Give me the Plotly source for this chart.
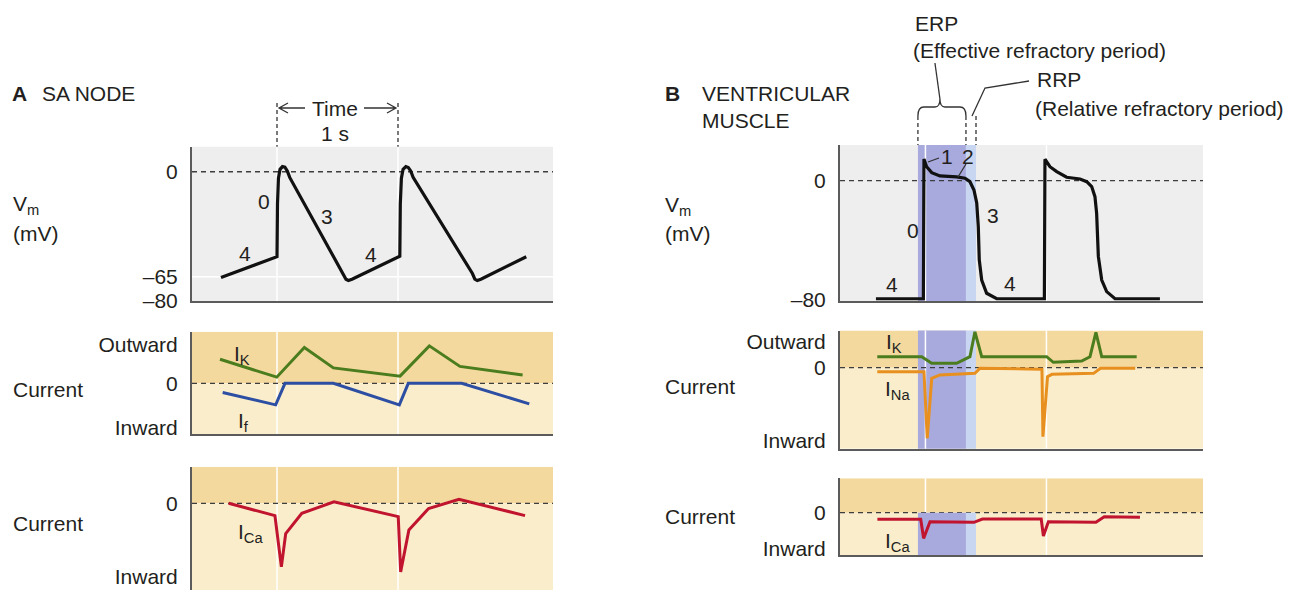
import plotly.graph_objects as go

W, H = 1299, 590

# ---------------- data ----------------
# A  SA node: time (s) and membrane potential (mV)
sa_t = [-0.463, 0.0, 0.004, 0.012, 0.025, 0.045, 0.065, 0.085, 0.105, 0.55, 0.57, 0.59, 0.62,
        1.015, 1.019, 1.028, 1.042, 1.065, 1.085, 1.105, 1.125, 1.615, 1.635, 1.655, 1.685, 2.06]
sa_vm = [-65.5, -52.6, -20, -4, 1.5, 3.2, 2.8, 0.5, -3.5, -63, -66.5, -67.3, -66.5,
         -52.3, -20, -4, 1.5, 3.2, 2.6, 0.5, -3.5, -63, -66.5, -67.3, -66.5, -52.6]

sa_ik_t = [-0.471, -0.002, 0.226, 0.466, 1.017, 1.259, 1.512, 2.030]
sa_ik = [0.47, 0.12, 0.70, 0.30, 0.14, 0.73, 0.33, 0.16]

sa_if_t = [-0.449, -0.011, 0.066, 0.466, 1.011, 1.085, 1.526, 2.085]
sa_if = [-0.18, -0.42, 0.0, 0.0, -0.42, 0.0, 0.0, -0.40]

sa_ica_t = [-0.40, -0.017, 0.036, 0.072, 0.205, 0.471, 1.002, 1.022, 1.090, 1.253, 1.504, 2.050]
sa_ica = [0.0, -0.24, -1.24, -0.59, -0.195, 0.03, -0.26, -1.34, -0.52, -0.10, 0.08, -0.24]

# B  ventricular muscle
vm_t = [-0.397, -0.005, 0.0, 0.022, 0.064, 0.132, 0.270, 0.339, 0.380, 0.413, 0.436, 0.449,
        0.457, 0.477, 0.518, 0.601, 0.995, 1.0, 1.041, 1.097, 1.179, 1.289, 1.345, 1.386,
        1.413, 1.427, 1.441, 1.469, 1.510, 1.579, 1.950]
vm_v = [-79.5, -79.5, 14.6, 9.4, 5.4, 3.2, 2.5, 1.6, -0.7, -6.3, -15, -31,
        -53.4, -66.9, -75.8, -79.5, -79.5, 14.4, 9.4, 6.1, 2.3, 1.1, -0.7, -4,
        -10.8, -22, -51, -66.9, -74.7, -79.5, -79.5]

v_ik_t = [-0.386, -0.019, 0.064, 0.270, 0.380, 0.421, 0.477, 1.014, 1.069, 1.303, 1.372,
          1.421, 1.469, 1.758]
v_ik = [0.214, 0.214, 0.086, 0.086, 0.214, 0.70, 0.214, 0.214, 0.105, 0.13, 0.214,
        0.69, 0.214, 0.214]

v_ina_t = [-0.386, 0.0, 0.027, 0.064, 0.132, 0.421, 0.463, 0.975, 0.983, 1.021, 1.058,
           1.402, 1.459, 1.746]
v_ina = [-0.078, -0.078, -1.376, -0.207, -0.14, -0.11, -0.01, -0.03, -1.345, -0.175,
         -0.13, -0.11, -0.01, -0.01]

v_ica_t = [-0.385, -0.027, -0.003, 0.05, 0.413, 0.483, 0.969, 0.987, 1.028, 1.421, 1.49, 1.785]
v_ica = [-0.129, -0.129, -0.50, -0.175, -0.187, -0.123, -0.123, -0.454, -0.175, -0.187,
         -0.078, -0.09]

erp = [-0.05, 0.347]       # effective refractory period (s)
rrp = [0.347, 0.43]        # relative refractory period (s)
beats_a = [0.0, 1.0]
beats_b = [0.012, 1.012]

# y-axis tick labels per panel
ticks = {
    1: ([0, -65, -80], ["0", "\u201365", "\u201380"]),
    2: ([0.75, 0, -0.87], ["Outward", "0", "Inward"]),
    3: ([0, -1.42], ["0", "Inward"]),
    4: ([0, -80], ["0", "\u201380"]),
    5: ([0.50, 0, -1.43], ["Outward", "0", "Inward"]),
    6: ([0, -0.71], ["0", "Inward"]),
}

# ---------------- layout geometry (pixels) ----------------
COL_A = (192, 553)
COL_B = (840, 1203)
XR_A = [-0.7025, 2.281]
XR_B = [-0.694, 2.306]
panels = {
    1: dict(col=COL_A, xr=XR_A, top=146.7, bot=301, yr=[-80, 15.5], kind="gray", bottom_line=True),
    2: dict(col=COL_A, xr=XR_A, top=331.7, bot=434.3, yr=[-0.994, 1.006], kind="cur", bottom_line=True),
    3: dict(col=COL_A, xr=XR_A, top=466.7, bot=590, yr=[-1.69, 0.714], kind="cur", bottom_line=False),
    4: dict(col=COL_B, xr=XR_B, top=145, bot=301, yr=[-81, 24], kind="gray", bottom_line=True),
    5: dict(col=COL_B, xr=XR_B, top=330.5, bot=448.7, yr=[-1.579, 0.725], kind="cur", bottom_line=True),
    6: dict(col=COL_B, xr=XR_B, top=478.3, bot=555, yr=[-0.825, 0.671], kind="cur", bottom_line=True),
}

FONT = "Liberation Sans, Arial, sans-serif"
FS = 21
TXT = "#231f20"
AXIS = "#5b5b5b"
GRAY = "#eeeeee"
OUT_C = "#f4d99f"
IN_C = "#faedcb"
ERP_C = "rgb(168,170,222)"
RRP_C = "rgb(200,214,241)"
BLACK = "#111111"
GREEN = "#4b7d1f"
BLUE = "#2c4ea3"
RED = "#c0142f"
ORANGE = "#e8901f"


def fx(px):
    return px / W


def fy(py):
    return 1 - py / H


def tx(t, col, xr):
    """time value -> paper x"""
    return fx(col[0] + (t - xr[0]) / (xr[1] - xr[0]) * (col[1] - col[0]))


fig = go.Figure()
layout = dict(width=W, height=H, margin=dict(l=0, r=0, t=0, b=0, autoexpand=False),
              paper_bgcolor="white", plot_bgcolor="rgba(0,0,0,0)",
              showlegend=False, font=dict(family=FONT, color=TXT, size=FS))
shapes = []

for n, p in panels.items():
    sx = "" if n == 1 else str(n)
    layout["xaxis" + sx] = dict(
        domain=[fx(p["col"][0]), fx(p["col"][1])], range=p["xr"], anchor="y" + sx,
        showgrid=False, zeroline=False, showticklabels=False, ticks="", automargin=False,
        showline=p["bottom_line"], linecolor=AXIS, linewidth=2, fixedrange=True)
    tv, tt = ticks[n]
    layout["yaxis" + sx] = dict(
        domain=[max(0.0, fy(p["bot"])), fy(p["top"])], range=p["yr"], anchor="x" + sx,
        showgrid=False, zeroline=False, ticks="", tickvals=tv, ticktext=tt, automargin=False,
        ticklabelstandoff=8, ticklabeloverflow="allow",
        tickfont=dict(size=FS, color=TXT, family=FONT),
        showline=True, linecolor=AXIS, linewidth=2, fixedrange=True)

    xd, yd = "x" + sx + " domain", "y" + sx + " domain"
    xa, ya = "x" + sx, "y" + sx
    if p["kind"] == "gray":
        shapes.append(dict(type="rect", xref=xd, yref=yd, x0=0, x1=1, y0=0, y1=1,
                           fillcolor=GRAY, line_width=0, layer="below"))
    else:
        shapes.append(dict(type="rect", xref=xd, yref=ya, x0=0, x1=1, y0=0, y1=p["yr"][1],
                           fillcolor=OUT_C, line_width=0, layer="below"))
        shapes.append(dict(type="rect", xref=xd, yref=ya, x0=0, x1=1, y0=p["yr"][0], y1=0,
                           fillcolor=IN_C, line_width=0, layer="below"))
    # refractory bands in column B
    if p["col"] == COL_B:
        if n == 6:
            yref_b, y0b, y1b = ya, p["yr"][0], 0
        else:
            yref_b, y0b, y1b = yd, 0, 1
        shapes.append(dict(type="rect", xref=xa, yref=yref_b, x0=erp[0], x1=erp[1], y0=y0b, y1=y1b,
                           fillcolor=ERP_C, line_width=0, layer="below"))
        shapes.append(dict(type="rect", xref=xa, yref=yref_b, x0=rrp[0], x1=rrp[1], y0=y0b, y1=y1b,
                           fillcolor=RRP_C, line_width=0, layer="below"))
    beats = beats_a if p["col"] == COL_A else beats_b
    for b in beats:
        shapes.append(dict(type="line", xref=xa, yref=yd, x0=b, x1=b, y0=0, y1=1,
                           line=dict(color="white", width=1.5), layer="below"))
    if n == 1:
        shapes.append(dict(type="line", xref=xd, yref=ya, x0=0, x1=1, y0=-65, y1=-65,
                           line=dict(color="white", width=1.5), layer="below"))
    shapes.append(dict(type="line", xref=xd, yref=ya, x0=0, x1=1, y0=0, y1=0,
                       line=dict(color="#3d3d3d", width=1.3, dash="5px,4px"), layer="below"))


def add_line(x, y, n, color, width=3):
    sx = "" if n == 1 else str(n)
    fig.add_trace(go.Scatter(x=x, y=y, mode="lines", xaxis="x" + sx, yaxis="y" + sx,
                             line=dict(color=color, width=width), hoverinfo="skip",
                             cliponaxis=True))


add_line(sa_t, sa_vm, 1, BLACK, 3.2)
add_line(sa_ik_t, sa_ik, 2, GREEN)
add_line(sa_if_t, sa_if, 2, BLUE)
add_line(sa_ica_t, sa_ica, 3, RED)
add_line(vm_t, vm_v, 4, BLACK, 3.2)
add_line(v_ik_t, v_ik, 5, GREEN)
add_line(v_ina_t, v_ina, 5, ORANGE)
add_line(v_ica_t, v_ica, 6, RED)

# ---------------- decorations above the panels ----------------
dark = dict(color="#333333", width=1.3)
# beat markers for the SA node ("Time 1 s")
for b in beats_a:
    xb = tx(b, COL_A, XR_A)
    shapes.append(dict(type="line", xref="paper", yref="paper", x0=xb, x1=xb,
                       y0=fy(103), y1=fy(146.7), line=dict(color="#333", width=1.3, dash="4px,3px")))
ya_arrow = 108
shapes.append(dict(type="path", xref="paper", yref="paper", line=dark,
                   path=f"M{fx(305)},{fy(ya_arrow)} L{fx(279)},{fy(ya_arrow)} "
                        f"M{fx(288)},{fy(ya_arrow-5)} L{fx(279)},{fy(ya_arrow)} L{fx(288)},{fy(ya_arrow+5)}"))
shapes.append(dict(type="path", xref="paper", yref="paper", line=dark,
                   path=f"M{fx(364)},{fy(ya_arrow)} L{fx(396)},{fy(ya_arrow)} "
                        f"M{fx(387)},{fy(ya_arrow-5)} L{fx(396)},{fy(ya_arrow)} L{fx(387)},{fy(ya_arrow+5)}"))

# refractory period markers for the ventricular muscle
for b in [erp[0], erp[1], rrp[1]]:
    xb = tx(b, COL_B, XR_B)
    shapes.append(dict(type="line", xref="paper", yref="paper", x0=xb, x1=xb,
                       y0=fy(116), y1=fy(145), line=dict(color="#333", width=1.3, dash="4px,3px")))
xl_px = COL_B[0] + (erp[0] - XR_B[0]) / (XR_B[1] - XR_B[0]) * (COL_B[1] - COL_B[0])
xr_px = COL_B[0] + (erp[1] - XR_B[0]) / (XR_B[1] - XR_B[0]) * (COL_B[1] - COL_B[0])
xm_px = (xl_px + xr_px) / 2 - 2


def P(x, y):
    return f"{fx(x)},{fy(y)}"


brace = (f"M{P(xl_px, 116)} Q{P(xl_px, 107)} {P(xl_px + 6, 107)} L{P(xm_px - 5, 107)} "
         f"Q{P(xm_px, 107)} {P(xm_px, 99)} Q{P(xm_px, 107)} {P(xm_px + 5, 107)} "
         f"L{P(xr_px - 6, 107)} Q{P(xr_px, 107)} {P(xr_px, 116)}")
shapes.append(dict(type="path", xref="paper", yref="paper", path=brace, line=dark))
shapes.append(dict(type="path", xref="paper", yref="paper", line=dark,
                   path=f"M{P(xm_px, 99)} L{P(xm_px - 5, 63)}"))
shapes.append(dict(type="path", xref="paper", yref="paper", line=dark,
                   path=f"M{P(972, 116)} L{P(985, 88)} L{P(1029, 81)}"))
# phase 1 and 2 pointers
shapes.append(dict(type="path", xref="paper", yref="paper", line=dark,
                   path=f"M{P(928, 162)} L{P(939, 158)}"))
shapes.append(dict(type="path", xref="paper", yref="paper", line=dark,
                   path=f"M{P(958, 177)} L{P(966, 164)}"))

layout["shapes"] = shapes

# ---------------- text ----------------
ann = []


def text_px(x, y, s, size=FS, xanchor="left", **kw):
    ann.append(dict(x=fx(x), y=fy(y), xref="paper", yref="paper", text=s, showarrow=False,
                    xanchor=xanchor, yanchor="middle", font=dict(size=size, family=FONT, color=TXT),
                    **kw))


def text_data(n, x, y, s, size=FS):
    sx = "" if n == 1 else str(n)
    ann.append(dict(x=x, y=y, xref="x" + sx, yref="y" + sx, text=s, showarrow=False,
                    xanchor="center", yanchor="middle", font=dict(size=size, family=FONT, color=TXT)))


text_px(10, 94, "<b>A</b>")
text_px(40, 94, "SA NODE")
text_px(335, 108, "Time", xanchor="center")
text_px(335, 134, "1 s", xanchor="center")
text_px(11, 205, "V<sub>m</sub>")
text_px(11, 234, "(mV)")
text_px(11, 389, "Current")
text_px(11, 523, "Current")

text_px(663, 94, "<b>B</b>")
text_px(700, 94, "VENTRICULAR")
text_px(700, 121, "MUSCLE")
text_px(913, 23, "ERP")
text_px(911, 51, "(Effective refractory period)")
text_px(1035, 79, "RRP")
text_px(1033, 108, "(Relative refractory period)")
text_px(663, 206, "V<sub>m</sub>")
text_px(663, 234, "(mV)")
text_px(663, 386, "Current")
text_px(663, 516, "Current")

# phase numbers
for (t, v, s) in [(-0.264, -50.5, "4"), (-0.105, -18.6, "0"), (0.413, -27.4, "3"), (0.777, -51.5, "4")]:
    text_data(1, t, v, s)
for (t, v, s) in [(-0.267, -70.2, "4"), (-0.093, -33.7, "0"), (0.190, 16.2, "1"), (0.362, 16.2, "2"),
                  (0.570, -23.6, "3"), (0.708, -69.1, "4")]:
    text_data(4, t, v, s)

# current names
text_data(2, -0.289, 0.55, "I<sub>K</sub>")
text_data(2, -0.273, -0.75, "I<sub>f</sub>")
text_data(3, -0.223, -0.58, "I<sub>Ca</sub>")
text_data(5, -0.248, 0.476, "I<sub>K</sub>")
text_data(5, -0.215, -0.435, "I<sub>Na</sub>")
text_data(6, -0.215, -0.565, "I<sub>Ca</sub>")

layout["annotations"] = ann
fig.update_layout(**layout)
fig.write_html("out.html")
